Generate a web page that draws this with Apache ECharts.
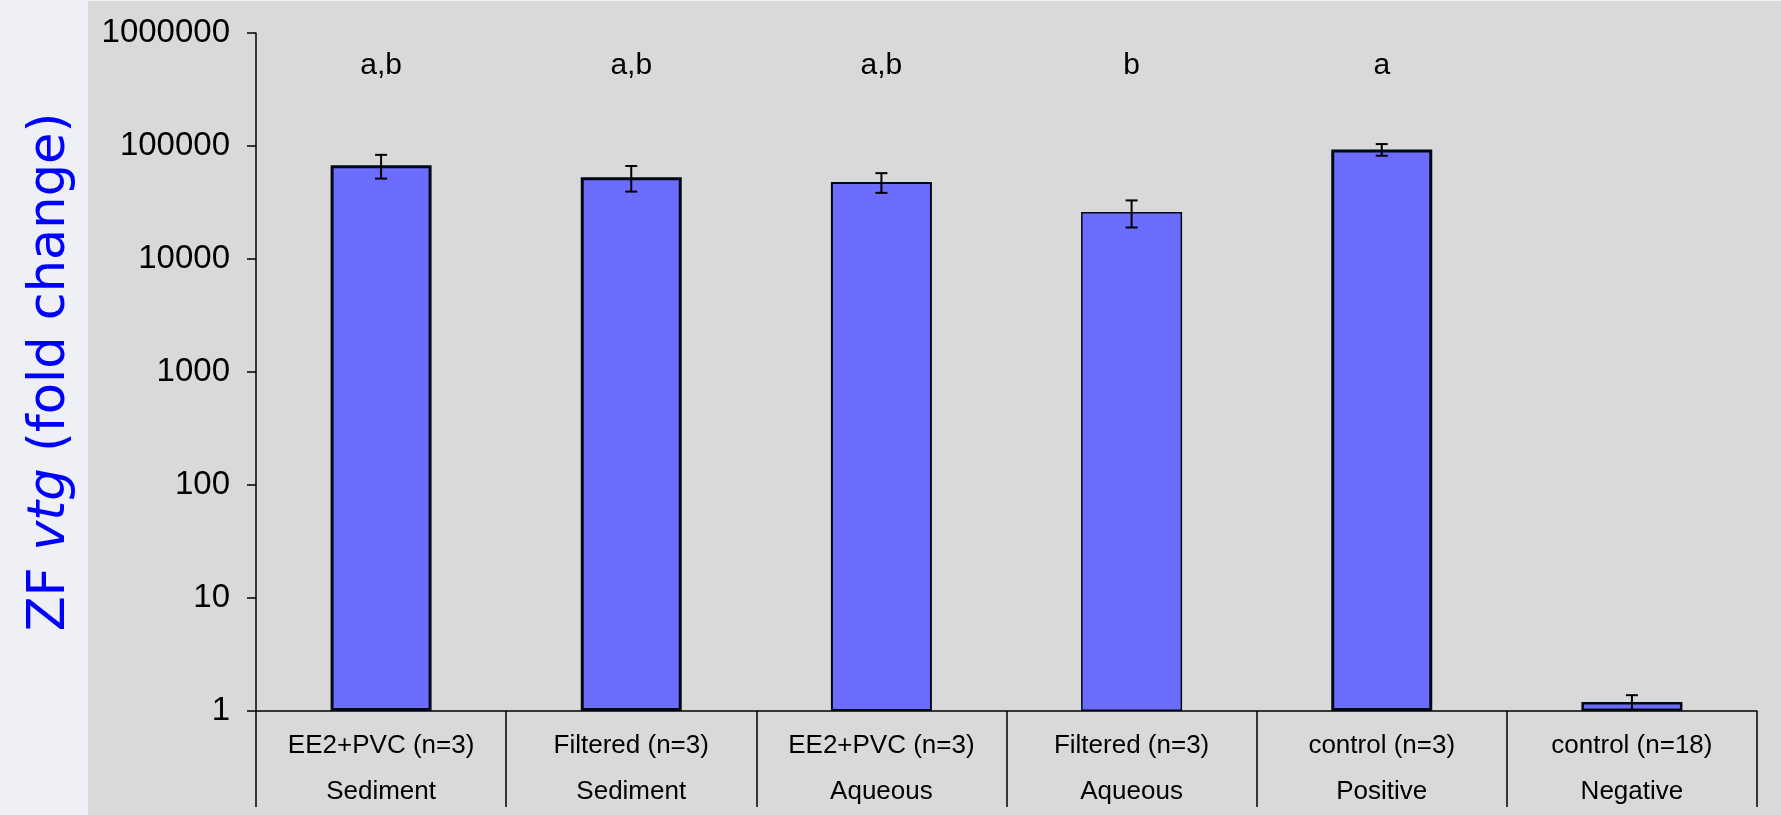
<!DOCTYPE html>
<html>
<head>
<meta charset="utf-8">
<script src="https://cdn.jsdelivr.net/npm/echarts@6/dist/echarts.min.js"></script>
<style>
  html, body { margin: 0; padding: 0; background: #eef0f5; }
  #panel { position: absolute; left: 88px; top: 1px; right: 0; bottom: 0; background: #d9d9d9; }
  #main { position: absolute; left: 0; top: 0; width: 1781px; height: 815px; }
</style>
</head>
<body>
<div id="panel"></div>
<div id="main"></div>
<script>
// categories (two label rows)
var treatment = ['EE2+PVC (n=3)', 'Filtered (n=3)', 'EE2+PVC (n=3)', 'Filtered (n=3)', 'control (n=3)', 'control (n=18)'];
var group = ['Sediment', 'Sediment', 'Aqueous', 'Aqueous', 'Positive', 'Negative'];
// fold change, mean and error
var foldChange = [67500, 53000, 48000, 26000, 93000, 1.2];
var foldErr = [16000, 13500, 9500, 7000, 11000, 0.18];
// significance letters
var letters = ['a,b', 'a,b', 'a,b', 'b', 'a', ''];
var letterLevel = 380000;
var borderW = [3, 3, 2, 1.5, 3, 2.5];

var cats = treatment.map(function (t, i) { return t + '\n' + group[i]; });

var barData = foldChange.map(function (v, i) {
    return { value: v, itemStyle: { borderWidth: borderW[i] } };
});
var errData = foldChange.map(function (v, i) {
    return [i, v - foldErr[i], v + foldErr[i]];
});
var letterData = letters.map(function (l, i) { return [i, letterLevel]; });

var myChart = echarts.init(document.getElementById('main'));
var option = {
    animation: false,
    grid: { left: 256, right: 24, top: 33, bottom: 103 },
    xAxis: {
        type: 'category',
        data: cats,
        axisLine: { lineStyle: { color: '#000', width: 1.5 } },
        axisTick: { show: true, interval: 0, length: 96, lineStyle: { color: '#000', width: 1.5 } },
        axisLabel: {
            interval: 0,
            margin: 12,
            color: '#000',
            fontFamily: 'Liberation Sans, Arial, sans-serif',
            fontSize: 26,
            lineHeight: 46
        }
    },
    yAxis: {
        type: 'log',
        logBase: 10,
        min: 1,
        max: 1000000,
        name: '{n|ZF }{i|vtg}{n| (fold change)}',
        nameLocation: 'middle',
        nameRotate: 90,
        nameGap: 180,
        nameTextStyle: {
            rich: {
                n: { fontFamily: 'DejaVu Sans', fontSize: 51, color: '#0000ff' },
                i: { fontFamily: 'DejaVu Sans', fontSize: 51, fontStyle: 'italic', color: '#0000ff' }
            }
        },
        axisLine: { show: true, lineStyle: { color: '#000', width: 1.5 } },
        axisTick: { show: true, length: 9, lineStyle: { color: '#000', width: 1.5 } },
        splitLine: { show: false },
        axisLabel: {
            margin: 26,
            color: '#000',
            fontFamily: 'Liberation Sans, Arial, sans-serif',
            fontSize: 33,
            formatter: function (v) { return String(Math.round(v)); }
        }
    },
    series: [
        {
            type: 'bar',
            data: barData,
            barWidth: 101,
            itemStyle: { color: '#6c6cff', borderColor: '#000814' }
        },
        {
            type: 'custom',
            data: errData,
            z: 5,
            renderItem: function (params, api) {
                var x = api.value(0);
                var lo = api.coord([x, api.value(1)]);
                var hi = api.coord([x, api.value(2)]);
                var w = 6;
                var st = { stroke: '#000', lineWidth: 2 };
                return {
                    type: 'group',
                    children: [
                        { type: 'line', shape: { x1: lo[0], y1: lo[1], x2: hi[0], y2: hi[1] }, style: st },
                        { type: 'line', shape: { x1: hi[0] - w, y1: hi[1], x2: hi[0] + w, y2: hi[1] }, style: st },
                        { type: 'line', shape: { x1: lo[0] - w, y1: lo[1], x2: lo[0] + w, y2: lo[1] }, style: st }
                    ]
                };
            }
        },
        {
            type: 'custom',
            data: letterData,
            renderItem: function (params, api) {
                var p = api.coord([api.value(0), api.value(1)]);
                return {
                    type: 'text',
                    x: p[0],
                    y: p[1],
                    style: {
                        text: letters[params.dataIndex],
                        fill: '#000',
                        font: '30px "Liberation Sans", Arial, sans-serif',
                        align: 'center',
                        verticalAlign: 'bottom'
                    }
                };
            }
        }
    ]
};
myChart.setOption(option);
</script>
</body>
</html>
